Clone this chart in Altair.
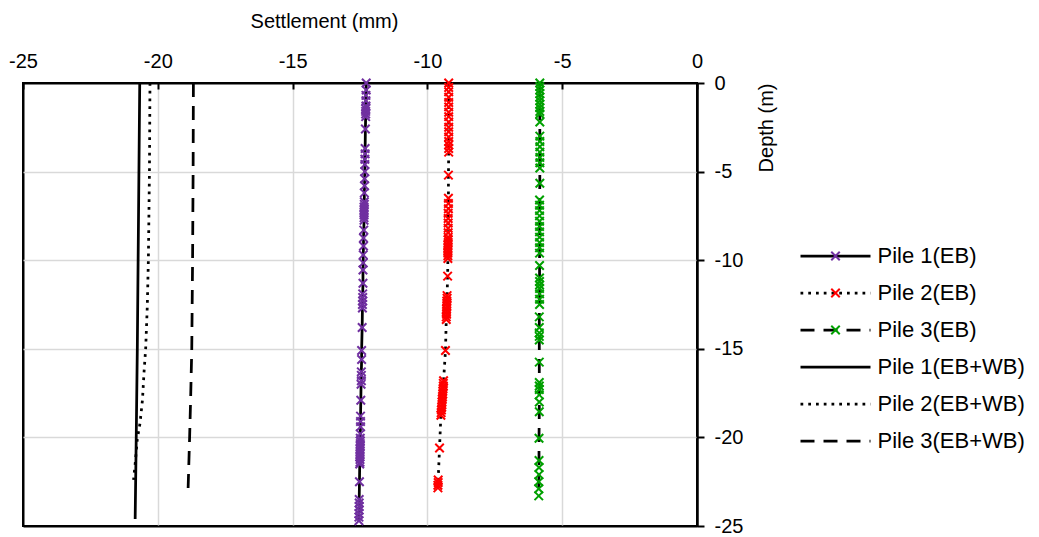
import altair as alt
import pandas as pd

FONT = "Liberation Sans"

SERIES = ["Pile 1(EB)", "Pile 2(EB)", "Pile 3(EB)",
          "Pile 1(EB+WB)", "Pile 2(EB+WB)", "Pile 3(EB+WB)"]
MARKER_COLORS = ["#7030A0", "#FF0000", "#00A000"]
DASHES = [[1, 0], [2.75, 5], [14, 9], [1, 0], [2.75, 5], [14, 9]]
X_TICKS = [-25, -20, -15, -10, -5, 0]
Y_TICKS = [-25, -20, -15, -10, -5, 0]

# Pile 1 (EB)
p1_eb_depth = [0, -0.4, -0.7, -1.0, -1.3, -1.45, -1.6, -1.75, -1.9,
               -2.6, -3.7, -4.0, -4.3, -4.6, -5.0, -5.4, -5.8, -6.2,
               -6.7, -6.85, -7.0, -7.15, -7.3, -7.45, -7.6, -7.75,
               -8.3, -8.75, -9.2, -9.7, -10.15, -10.55, -11.3,
               -11.9, -12.1, -12.3, -12.5, -12.7, -13.8, -15.1, -15.6,
               -16.3, -16.5, -16.8, -17.0, -17.9, -18.8, -19.1, -19.4, -19.8,
               -20.05, -20.2, -20.35, -20.5, -20.65, -20.8, -20.95, -21.1, -21.25, -21.4, -21.5,
               -22.5, -23.5, -23.7, -23.9, -24.1, -24.3, -24.5, -24.7]
p1_eb_settle = [-12.27, -12.27, -12.28, -12.28, -12.28, -12.29, -12.29, -12.29, -12.29,
                -12.30, -12.31, -12.31, -12.32, -12.32, -12.32, -12.33, -12.33, -12.34,
                -12.34, -12.34, -12.35, -12.35, -12.35, -12.35, -12.35, -12.35,
                -12.36, -12.37, -12.37, -12.38, -12.38, -12.39, -12.39,
                -12.40, -12.40, -12.40, -12.41, -12.41, -12.42, -12.44, -12.44,
                -12.45, -12.45, -12.45, -12.46, -12.47, -12.48, -12.48, -12.48, -12.49,
                -12.49, -12.49, -12.49, -12.49, -12.50, -12.50, -12.50, -12.50, -12.50, -12.50, -12.51,
                -12.52, -12.53, -12.53, -12.53, -12.53, -12.54, -12.54, -12.54]

# Pile 2 (EB)
p2_eb_depth = [0, -0.25, -0.5, -0.8, -1.1, -1.35, -1.65, -1.9,
               -2.2, -2.5, -2.75, -3.05, -3.3, -3.5, -3.7, -3.9,
               -5.2,
               -6.5, -6.8, -7.1, -7.35, -7.65, -7.9, -8.2, -8.45, -8.7,
               -8.85, -9.0, -9.15, -9.3, -9.45, -9.6, -9.75, -9.9,
               -10.9,
               -12.0, -12.15, -12.3, -12.45, -12.6, -12.75, -12.9, -13.05, -13.2, -13.35,
               -15.1,
               -16.8, -16.95, -17.1, -17.25, -17.4, -17.55, -17.7, -17.85, -18.0, -18.15,
               -18.3, -18.45, -18.6, -18.75,
               -20.6,
               -22.4, -22.55, -22.7, -22.85]
p2_eb_settle = [-9.21, -9.21, -9.21, -9.21, -9.21, -9.21, -9.21, -9.21,
                -9.21, -9.21, -9.21, -9.21, -9.21, -9.21, -9.21, -9.21,
                -9.22,
                -9.22, -9.22, -9.22, -9.23, -9.23, -9.23, -9.23, -9.23, -9.23,
                -9.23, -9.23, -9.24, -9.24, -9.24, -9.24, -9.24, -9.24,
                -9.25,
                -9.27, -9.27, -9.28, -9.28, -9.28, -9.29, -9.29, -9.29, -9.30, -9.30,
                -9.33,
                -9.40, -9.41, -9.41, -9.42, -9.43, -9.43, -9.44, -9.45, -9.46, -9.46,
                -9.47, -9.48, -9.49, -9.50,
                -9.55,
                -9.60, -9.60, -9.61, -9.61]

# Pile 3 (EB)
p3_eb_depth = [0, -0.2, -0.4, -0.6, -0.8, -1.0, -1.2, -1.4, -1.6, -1.75,
               -2.2, -3.0, -3.3, -3.6, -3.9, -4.2, -4.5, -4.8, -5.66,
               -6.6, -6.9, -7.2, -7.5, -7.8, -8.1, -8.4, -8.7, -9.0, -9.3, -9.6,
               -10.3, -11.0, -11.2, -11.4, -11.6, -11.9, -12.2, -12.5,
               -13.2, -13.8, -14.1, -14.3, -14.5, -15.75,
               -16.9, -17.1, -17.3, -17.6, -18.0, -18.55, -20.05,
               -21.3, -21.7, -22.1, -22.5, -22.9, -23.3]
p3_eb_settle = [-5.83, -5.83, -5.83, -5.83, -5.83, -5.83, -5.83, -5.83, -5.83, -5.83,
                -5.83, -5.83, -5.83, -5.83, -5.83, -5.83, -5.83, -5.83, -5.83,
                -5.84, -5.84, -5.84, -5.84, -5.84, -5.84, -5.84, -5.84, -5.84, -5.84, -5.84,
                -5.84, -5.84, -5.84, -5.84, -5.84, -5.84, -5.84, -5.84,
                -5.85, -5.85, -5.85, -5.85, -5.85, -5.85,
                -5.85, -5.85, -5.85, -5.85, -5.85, -5.85, -5.86,
                -5.86, -5.86, -5.86, -5.87, -5.87, -5.87]

# Pile 1 (EB+WB)
p1_wb_depth = [0, -5, -10, -15, -20, -24.6]
p1_wb_settle = [-20.67, -20.70, -20.73, -20.76, -20.80, -20.84]

# Pile 2 (EB+WB)
p2_wb_depth = [0, -5, -10, -12.6, -15, -16.3, -17.9, -19.2, -20.1, -21.5, -22.4]
p2_wb_settle = [-20.29, -20.31, -20.35, -20.39, -20.45, -20.51, -20.57, -20.66, -20.76, -20.84, -20.90]

# Pile 3 (EB+WB)
p3_wb_depth = [0, -5, -10, -15, -17.7, -20, -23.1]
p3_wb_settle = [-18.68, -18.69, -18.71, -18.74, -18.78, -18.82, -18.88]

groups = [
    (SERIES[0], p1_eb_depth, p1_eb_settle),
    (SERIES[1], p2_eb_depth, p2_eb_settle),
    (SERIES[2], p3_eb_depth, p3_eb_settle),
    (SERIES[3], p1_wb_depth, p1_wb_settle),
    (SERIES[4], p2_wb_depth, p2_wb_settle),
    (SERIES[5], p3_wb_depth, p3_wb_settle),
]
rows = []
for name, depths, settles in groups:
    assert len(depths) == len(settles), name
    for i, (d, s) in enumerate(zip(depths, settles)):
        rows.append({"series": name, "depth": d, "settlement": s, "idx": i})
df = pd.DataFrame(rows)
marker_df = df[df["series"].isin(SERIES[:3])]

XPATH = "M-1,-1L1,1M-1,1L1,-1"

x_scale = alt.Scale(domain=[-25, 0], nice=False, zero=False)
y_scale = alt.Scale(domain=[-25, 0], nice=False, zero=False)

edge_test = "datum.value == -25 || datum.value == 0"
grid_color = {"condition": {"test": edge_test, "value": "black"}, "value": "#d9d9d9"}
grid_width = {"condition": {"test": edge_test, "value": 2}, "value": 1.5}

x_axis = alt.Axis(
    orient="top", values=X_TICKS, title="Settlement (mm)",
    labelExpr="'' + datum.value", labelFlush=False,
    domain=False, ticks=True, tickSize=6, tickColor="black", tickWidth=2,
    offset=-6, labelPadding=12, titlePadding=20, titleX=301,
    grid=True, gridColor=grid_color, gridWidth=grid_width,
)
y_axis = alt.Axis(
    orient="right", values=Y_TICKS, title="Depth (m)",
    labelExpr="'' + datum.value", labelFlush=False,
    domain=True, domainColor="black", domainWidth=2,
    ticks=True, tickSize=7, tickColor="black", tickWidth=2,
    labelPadding=10, labelAlign="left",
    titleAngle=270, titleAnchor="end", titleAlign="right", titlePadding=34,
    grid=True, gridColor=grid_color, gridWidth=grid_width,
)

dash_legend = alt.Legend(
    title=None, orient="none", legendX=776, legendY=162,
    symbolType="stroke", symbolSize=4900, symbolStrokeWidth=2.75,
    symbolStrokeColor="black", clipHeight=22, rowPadding=15,
    labelOffset=5.5, labelFontSize=22, labelLimit=400, padding=0,
)
marker_legend = alt.Legend(
    title=None, orient="none", legendX=801.5, legendY=162,
    symbolSize=72, symbolStrokeWidth=2, clipHeight=22, rowPadding=15,
    labelFontSize=22, labelExpr="''", padding=0,
)

lines = alt.Chart(df).mark_line(color="black", strokeWidth=2.75, strokeCap="butt").encode(
    x=alt.X("settlement:Q", scale=x_scale, axis=x_axis),
    y=alt.Y("depth:Q", scale=y_scale, axis=y_axis),
    detail="series:N",
    strokeDash=alt.StrokeDash("series:N", scale=alt.Scale(domain=SERIES, range=DASHES), legend=dash_legend),
    order=alt.Order("idx:Q"),
)

markers = alt.Chart(marker_df).mark_point(filled=False, strokeWidth=2, size=72, opacity=1).encode(
    x=alt.X("settlement:Q", scale=x_scale),
    y=alt.Y("depth:Q", scale=y_scale),
    color=alt.Color("series:N", scale=alt.Scale(domain=SERIES[:3], range=MARKER_COLORS), legend=marker_legend),
    shape=alt.Shape("series:N", scale=alt.Scale(domain=SERIES[:3], range=[XPATH] * 3), legend=marker_legend),
)

chart = alt.layer(lines, markers).properties(
    width=674, height=443,
    padding={"left": 0, "top": 3, "right": 0, "bottom": 0},
).configure(
    font=FONT,
).configure_view(
    stroke="black", strokeWidth=2,
).configure_axis(
    labelFont=FONT, titleFont=FONT, labelFontSize=20, titleFontSize=20,
    labelColor="black", titleColor="black", titleFontWeight="normal",
).configure_legend(
    labelFont=FONT, labelColor="black",
)

chart.save("out.html", embed_options={"renderer": "svg", "actions": False})
